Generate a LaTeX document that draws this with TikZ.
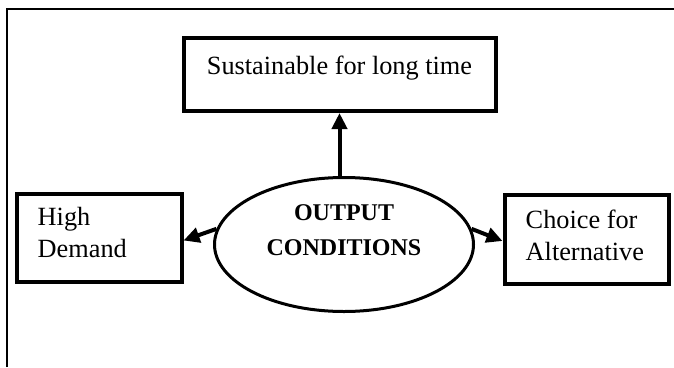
\documentclass[tikz,border=0pt]{standalone}
\usepackage{fontspec}
\setmainfont{Liberation Serif}
\usetikzlibrary{shapes.geometric,arrows.meta}

\begin{document}
\begin{tikzpicture}[x=1pt, y=-1pt,
  box/.style={draw, line width=4pt, inner sep=0pt},
  txt/.style={font=\fontsize{26.3}{32.5}\selectfont, inner sep=0pt, align=left},
  boldtxt/.style={font=\fontsize{24}{35}\selectfont\bfseries, inner sep=0pt, align=center},
  arr/.style={line width=4pt, -{Triangle[length=16pt, width=15pt]}}]
  \useasboundingbox (0,0) rectangle (674,367);
  % frame
  \draw[line width=2pt] (7,367) -- (7,9) -- (674,9);

  % boxes and ellipse
  \node[box, minimum width=312pt, minimum height=73pt] (slt) at (339.5,74.5) {};
  \node[box, minimum width=165pt, minimum height=88pt] (hd) at (99,237.5) {};
  \node[box, minimum width=164pt, minimum height=89pt] (cfa) at (586.5,239) {};
  \node[ellipse, draw, line width=3pt, minimum width=259pt, minimum height=134pt] (oc) at (344,244.5) {};

  % texts (base = last line)
  \node[txt, anchor=base] (slt-t) at ([yshift=-38pt]slt.north) {Sustainable for long time};
  \node[txt, anchor=base west] (hd-t) at ([xshift=23pt, yshift=-66pt]hd.north west) {High\\Demand};
  \node[txt, anchor=base west] (cfa-t) at ([xshift=23pt, yshift=-68pt]cfa.north west) {Choice for\\Alternative};
  \node[boldtxt, anchor=base] (oc-t) at ([yshift=-79pt]oc.north) {OUTPUT\\CONDITIONS};

  % arrows
  \draw[arr] (oc.north -| slt.south) -- (slt.south);
  \draw[arr] (oc.173) -- ([yshift=-3pt]hd.east);
  \draw[arr] (oc.7) -- ([yshift=-2pt]cfa.west);
\end{tikzpicture}
\end{document}
